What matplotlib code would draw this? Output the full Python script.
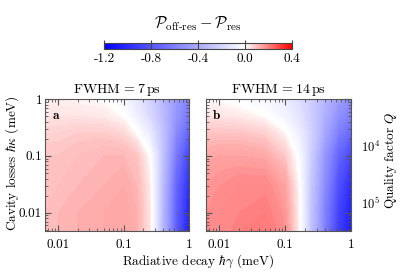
import numpy as np
import matplotlib
matplotlib.use("Agg")
import matplotlib.pyplot as plt
from matplotlib.colors import LinearSegmentedColormap, Normalize
from matplotlib.ticker import FixedLocator, NullFormatter, NullLocator

plt.rcParams['font.family'] = 'cmr10'
plt.rcParams['mathtext.fontset'] = 'cm'
plt.rcParams['axes.formatter.use_mathtext'] = True
plt.rcParams['font.size'] = 9.5

# grid nodes (meV)
gamma = [0.0063, 0.01, 0.02, 0.05, 0.1, 0.16, 0.25, 0.4, 0.63, 1.0]
kappa = [0.0048, 0.01, 0.03, 0.1, 0.25, 0.5, 1.0]

# P_off-res - P_res, rows = kappa (low -> high), FWHM = 7 ps
diff_7ps = [
    [0.10, 0.11, 0.12, 0.13, 0.14, 0.12, 0.04, -0.35, -0.75, -1.10],
    [0.10, 0.11, 0.12, 0.13, 0.14, 0.12, 0.04, -0.35, -0.75, -1.05],
    [0.10, 0.10, 0.11, 0.12, 0.13, 0.11, 0.03, -0.33, -0.72, -1.00],
    [0.09, 0.09, 0.10, 0.11, 0.11, 0.09, 0.00, -0.30, -0.63, -0.90],
    [0.07, 0.07, 0.08, 0.08, 0.06, 0.00, -0.10, -0.30, -0.55, -0.75],
    [0.04, 0.04, 0.04, 0.03, 0.00, -0.08, -0.18, -0.32, -0.50, -0.65],
    [0.02, 0.02, 0.01, 0.00, -0.05, -0.12, -0.22, -0.35, -0.48, -0.60],
]
# FWHM = 14 ps
diff_14ps = [
    [0.17, 0.18, 0.20, 0.21, 0.17, 0.02, -0.30, -0.60, -0.90, -1.10],
    [0.17, 0.18, 0.19, 0.20, 0.16, 0.02, -0.30, -0.60, -0.88, -1.05],
    [0.16, 0.17, 0.18, 0.18, 0.14, 0.01, -0.28, -0.55, -0.82, -1.00],
    [0.13, 0.14, 0.14, 0.13, 0.08, -0.02, -0.25, -0.50, -0.72, -0.88],
    [0.09, 0.09, 0.09, 0.07, 0.01, -0.08, -0.22, -0.42, -0.60, -0.72],
    [0.04, 0.04, 0.03, 0.00, -0.06, -0.13, -0.24, -0.38, -0.52, -0.62],
    [0.00, 0.00, -0.02, -0.05, -0.10, -0.16, -0.25, -0.35, -0.45, -0.55],
]
titles = [r'FWHM$\,=7\,$ps', r'FWHM$\,=14\,$ps']
letters = ['a', 'b']
cbar_ticks = [-1.2, -0.8, -0.4, 0.0, 0.4]
cbar_labels = ['-1.2', '-0.8', '-0.4', '0.0', '0.4']
E_cav = 1500.0  # meV, for Q = E / (hbar kappa)

vmin, vmax = -1.2, 0.4
z0 = (0 - vmin) / (vmax - vmin)
cmap = LinearSegmentedColormap.from_list(
    'bwr2', [(0, (0, 0, 1)), (z0, (1, 1, 1)), (1, (1, 0, 0))])
norm = Normalize(vmin, vmax)
levels = np.linspace(vmin, vmax, 161)

fig = plt.figure(figsize=(4.15, 2.76), dpi=100)
W, H = 415, 276
axa = fig.add_axes([45/W, 1-231/H, 144/W, 132/H])
axb = fig.add_axes([206/W, 1-231/H, 145/W, 132/H])

for ax, Z, t, lt in zip([axa, axb], [diff_7ps, diff_14ps], titles, letters):
    ax.contourf(gamma, kappa, np.array(Z), levels=levels, cmap=cmap,
                norm=norm, antialiased=False)
    ax.set_xscale('log')
    ax.set_yscale('log')
    ax.set_xlim(10**-2.2, 1)
    ax.set_ylim(0.0048, 1)
    ax.set_xticks([0.01, 0.1, 1])
    ax.set_xticklabels(['0.01', '0.1', '1'])
    ax.set_yticks([0.01, 0.1, 1])
    ax.tick_params(which='both', direction='in', top=True, right=True,
                   color='#555555')
    ax.tick_params(which='major', length=4)
    ax.tick_params(axis='x', which='major', pad=6)
    ax.tick_params(axis='y', which='major', pad=2)
    ax.tick_params(which='minor', length=2)
    for s in ax.spines.values():
        s.set_color('#555555')
    ax.set_title(t, pad=4, fontsize=10)
    ax.text(0.05, 0.92, lt, transform=ax.transAxes, family='cmb10',
            va='top', ha='left')

axa.set_yticklabels(['0.01', '0.1', '1'])
axb.set_yticklabels([])
axb.yaxis.set_minor_formatter(NullFormatter())
fig.text(12/W, 1-163/H, r'Cavity losses $\hbar\kappa$ (meV)', rotation=90,
         ha='center', va='center')
fig.text(198/W, 1-261/H, r'Radiative decay $\hbar\gamma$ (meV)',
         ha='center', va='center')

sec = axb.secondary_yaxis('right', functions=(lambda k: E_cav/k,
                                                lambda q: E_cav/q))
sec.yaxis.set_major_locator(FixedLocator([1e4, 1e5]))
sec.set_yticklabels([r'$10^4$', r'$10^5$'])
sec.yaxis.set_minor_locator(NullLocator())
sec.tick_params(direction='in', length=0, pad=7, labelsize=9)
sec.spines['right'].set_visible(False)
fig.text(390/W, 1-160/H, r'Quality factor $Q$', rotation=90,
         ha='center', va='center')

cax = fig.add_axes([104/W, 1-49/H, 188/W, 6.5/H])
cb = fig.colorbar(plt.cm.ScalarMappable(norm=norm, cmap=cmap), cax=cax,
                  orientation='horizontal')
cb.set_ticks(cbar_ticks)
cb.set_ticklabels(cbar_labels)
cb.ax.tick_params(direction='in', length=6.5, color='#444444', pad=3)
cb.outline.set_edgecolor('#444444')
fig.text(198/W, 1-24/H,
         r'$\mathcal{P}_{\mathrm{off\text{-}res}} - \mathcal{P}_{\mathrm{res}}$',
         ha='center', va='center', fontsize=11.5)

fig.savefig('out.png', dpi=100)
